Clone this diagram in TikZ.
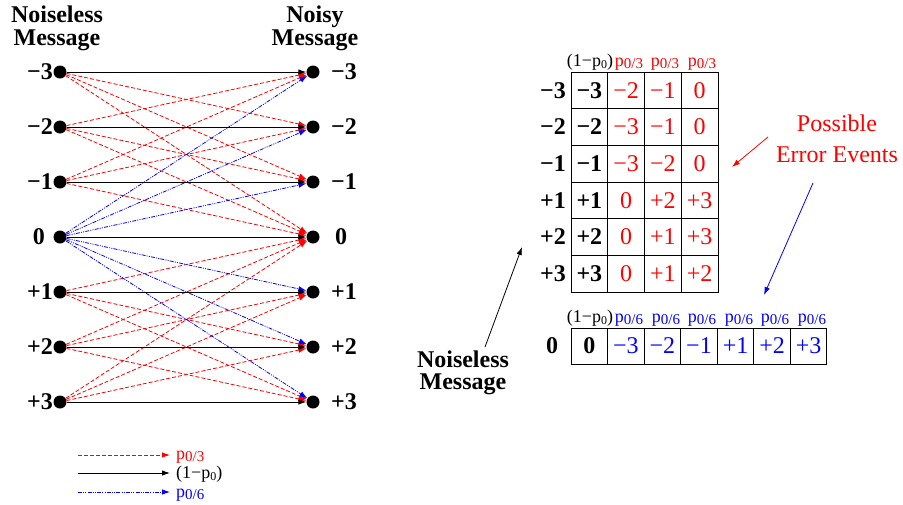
\documentclass[tikz,border=0pt]{standalone}
\usepackage{fontspec}
\setmainfont{Liberation Serif}
\usetikzlibrary{arrows.meta}
\newcommand\pprob[1]{p\raisebox{-0.3ex}{\fontsize{15}{15}\selectfont #1}}
\newcommand\oneminus{(1−p\raisebox{-0.35ex}{\fontsize{12}{12}\selectfont 0})}
\begin{document}
\begin{tikzpicture}[x=1pt,y=-1pt,
 dot/.style={circle,fill=black,inner sep=0pt,minimum size=13pt},
 vlab/.style={font=\fontsize{24}{23}\selectfont\bfseries,inner sep=0pt},
 head/.style={font=\fontsize{24}{23}\selectfont\bfseries,inner sep=0pt,align=center,anchor=north},
 myarrow/.style={-{Latex[length=8pt,width=5.5pt]}},
 errred/.style={myarrow,red,line width=0.8pt,dash pattern=on 4pt off 2pt},
 errblue/.style={myarrow,blue,line width=0.8pt,dash pattern=on 4pt off 1.2pt on 1pt off 1.2pt on 1pt off 1.2pt},
 keep/.style={myarrow,black,line width=0.9pt},
 cell/.style={draw,line width=1pt,minimum width=36.75pt,minimum height=36.67pt,inner sep=0pt,font=\fontsize{24}{24}\selectfont},
 cellk/.style={cell,font=\fontsize{24}{24}\selectfont\bfseries},
 cellr/.style={cell,text=red},
 cellb/.style={cell,text=blue},
 prob/.style={inner sep=0pt,font=\fontsize{18}{18}\selectfont,anchor=base},
 note/.style={inner sep=0pt,align=center,anchor=north},
]
\useasboundingbox (0,0) rectangle (903,504);

% ---------- left channel diagram ----------
\node[head] (hl) at (57,6) {Noiseless\\Message};
\node[head] (hr) at (315,6) {Noisy\\Message};

\foreach \i/\v/\lx/\rx in {1/−3/53/331,2/−2/53/331,3/−1/53/331,4/0/45/335,5/+1/53/331,6/+2/53/331,7/+3/53/331}{
  \pgfmathsetmacro\yy{72+55*(\i-1)}
  \node[dot] (L\i) at (60,\yy) {};
  \node[dot] (R\i) at (313,\yy) {};
  \node[vlab,anchor=east] (LL\i) at (\lx,\yy) {\v};
  \node[vlab,anchor=west] (RL\i) at (\rx,\yy) {\v};
}
\foreach \i/\j in {1/2,1/3,1/4,2/1,2/3,2/4,3/1,3/2,3/4,5/4,5/6,5/7,6/4,6/5,6/7,7/4,7/5,7/6}
  \draw[errred] (L\i) -- (R\j);
\foreach \j in {1,2,3,5,6,7}
  \draw[errblue] (L4) -- (R\j);
\foreach \i in {1,...,7}
  \draw[keep] (L\i) -- (R\i);

% ---------- legend ----------
\coordinate (g1a) at (78,455); \coordinate (g1b) at (170,455);
\coordinate (g2a) at (78,473); \coordinate (g2b) at (170,473);
\coordinate (g3a) at (78,492); \coordinate (g3b) at (170,492);
\draw[errred] (g1a) -- (g1b);
\draw[keep] (g2a) -- (g2b);
\draw[errblue] (g3a) -- (g3b);
\node[prob,anchor=base west,text=red] (lg1) at (176,459) {\pprob{0/3}};
\node[prob,anchor=base west] (lg2) at (176,478) {\oneminus};
\node[prob,anchor=base west,text=blue] (lg3) at (176,497) {\pprob{0/6}};

% ---------- upper table ----------
\node[prob] (th1) at (590,66) {\oneminus};
\node[prob,text=red] (th2) at (629,66) {\pprob{0/3}};
\node[prob,text=red] (th3) at (665,66) {\pprob{0/3}};
\node[prob,text=red] (th4) at (702,66) {\pprob{0/3}};
\foreach \r/\a/\b/\c/\d in {1/−3/−2/−1/0,2/−2/−3/−1/0,3/−1/−3/−2/0,4/+1/0/+2/+3,5/+2/0/+1/+3,6/+3/0/+1/+2}{
  \pgfmathsetmacro\yy{72+36.67*(\r-0.5)}
  \node[vlab,anchor=east] (TR\r) at (566,\yy) {\a};
  \node[cellk] (T\r-1) at (589.375,\yy) {\a};
  \node[cellr] (T\r-2) at (626.125,\yy) {\b};
  \node[cellr] (T\r-3) at (662.875,\yy) {\c};
  \node[cellr] (T\r-4) at (699.625,\yy) {\d};
}

% ---------- lower table ----------
\node[prob] (bh1) at (590,322) {\oneminus};
\foreach \k/\xx in {2/629,3/666,4/702,5/739,6/775,7/812}
  \node[prob,text=blue] (bh\k) at (\xx,322) {\pprob{0/6}};
\node[vlab] (BR) at (552,346) {0};
\node[cellk,minimum width=36.57pt,minimum height=36pt] (B1) at (589.3,346) {0};
\foreach \k/\v in {2/−3,3/−2,4/−1,5/+1,6/+2,7/+3}{
  \pgfmathsetmacro\xx{571+36.57*(\k-0.5)}
  \node[cellb,minimum width=36.57pt,minimum height=36pt] (B\k) at (\xx,346) {\v};
}

% ---------- annotations ----------
\node[note,font=\fontsize{24}{31}\selectfont,text=red] (pe) at (837,115) {Possible\\Error Events};
\coordinate (pr1) at (768,137); \coordinate (pr2) at (732,167);
\coordinate (pb1) at (813,183); \coordinate (pb2) at (764,295);
\draw[myarrow,red,line width=0.8pt] (pr1) -- (pr2);
\draw[myarrow,blue,line width=0.8pt] (pb1) -- (pb2);

\node[note,font=\fontsize{24}{22}\selectfont\bfseries] (nm) at (463,351) {Noiseless\\Message};
\coordinate (nt) at (485,347); \coordinate (nh) at (522,247);
\draw[myarrow,black,line width=0.8pt] (nt) -- (nh);
\end{tikzpicture}
\end{document}
